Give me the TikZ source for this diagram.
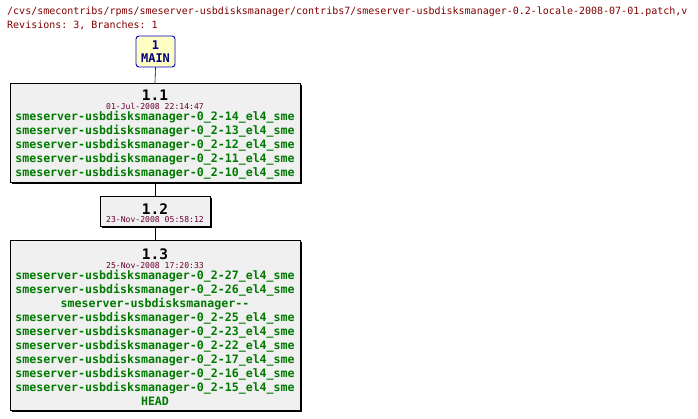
\documentclass[tikz,border=0pt]{standalone}
\usepackage{fontspec}
\setmonofont{DejaVu Sans Mono}
\usepackage{xcolor}
\usepackage{tikz}
\usetikzlibrary{positioning,shadows}

\begin{document}
\begin{tikzpicture}[
    x=1pt, y=-1pt,
    font=\ttfamily,
    rev/.style={draw=black, fill=revfill, line width=0.8pt, rectangle,
                align=center, inner sep=0pt, text=tagtext,
                font=\ttfamily\bfseries\fontsize{11.6}{14}\selectfont,
                drop shadow={shadow xshift=2pt, shadow yshift=-2pt,
                             fill=black, opacity=1}},
    branch/.style={draw=branchline, fill=branchfill, line width=0.9pt,
                   rounded corners=3pt, align=center, inner sep=0pt,
                   minimum width=39pt, minimum height=31pt,
                   font=\ttfamily\bfseries\fontsize{12}{13}\selectfont,
                   text=branchtext},
    link/.style={line width=0.6pt},
  ]
  \definecolor{revfill}{HTML}{F0F0F0}
  \definecolor{branchfill}{HTML}{FFFFC4}
  \definecolor{branchline}{HTML}{0000CC}
  \definecolor{branchtext}{HTML}{000080}
  \definecolor{tagtext}{HTML}{007A00}
  \definecolor{datetext}{HTML}{6A0030}
  \definecolor{headtext}{HTML}{800000}

  \newcommand{\revnum}[1]{{\color{black}\fontsize{14.5}{14}\selectfont\rule{0pt}{15pt}#1}\\[-5.5pt]}
  \newcommand{\revdate}[1]{{\color{datetext}\mdseries\fontsize{8.1}{9}\selectfont #1}}

  \useasboundingbox (0,0) rectangle (698,419);

  % ========================= CABECERA ========================
  \node[anchor=north west, inner sep=0pt, text=headtext,
        font=\ttfamily\fontsize{10}{14}\selectfont, align=left] (title) at (7,7)
    {/cvs/smecontribs/rpms/smeserver-usbdisksmanager/contribs7/smeserver-usbdisksmanager-0.2-locale-2008-07-01.patch,v\\
     Revisions: 3, Branches: 1};

  % ========================== RAMA ===========================
  \node[branch] (main) at (155.5, 51.5) {1\\MAIN};

  % ======================== REVISIONES =======================
  \node[rev, minimum width=290pt, minimum height=99pt] (r11) at (155, 132.5) {%
    \revnum{1.1}
    \revdate{01-Jul-2008 22:14:47}\\[-3pt]
    smeserver-usbdisksmanager-0\_2-14\_el4\_sme\\
    smeserver-usbdisksmanager-0\_2-13\_el4\_sme\\
    smeserver-usbdisksmanager-0\_2-12\_el4\_sme\\
    smeserver-usbdisksmanager-0\_2-11\_el4\_sme\\
    smeserver-usbdisksmanager-0\_2-10\_el4\_sme};
  \node[rev, minimum width=110pt, minimum height=30pt] (r12) at (155, 211) {%
    \revnum{1.2}
    \revdate{23-Nov-2008 05:58:12}};
  \node[rev, minimum width=290pt, minimum height=170pt] (r13) at (155, 325) {%
    \revnum{1.3}
    \revdate{25-Nov-2008 17:20:33}\\[-3pt]
    smeserver-usbdisksmanager-0\_2-27\_el4\_sme\\
    smeserver-usbdisksmanager-0\_2-26\_el4\_sme\\
    smeserver-usbdisksmanager-{}-\\
    smeserver-usbdisksmanager-0\_2-25\_el4\_sme\\
    smeserver-usbdisksmanager-0\_2-23\_el4\_sme\\
    smeserver-usbdisksmanager-0\_2-22\_el4\_sme\\
    smeserver-usbdisksmanager-0\_2-17\_el4\_sme\\
    smeserver-usbdisksmanager-0\_2-16\_el4\_sme\\
    smeserver-usbdisksmanager-0\_2-15\_el4\_sme\\
    HEAD};

  % ========================== LINEAS =========================
  \draw[link] (main.south) -- (r11.north);
  \draw[link] (r11.south) -- (r12.north);
  \draw[link] (r12.south) -- (r13.north);
\end{tikzpicture}
\end{document}
